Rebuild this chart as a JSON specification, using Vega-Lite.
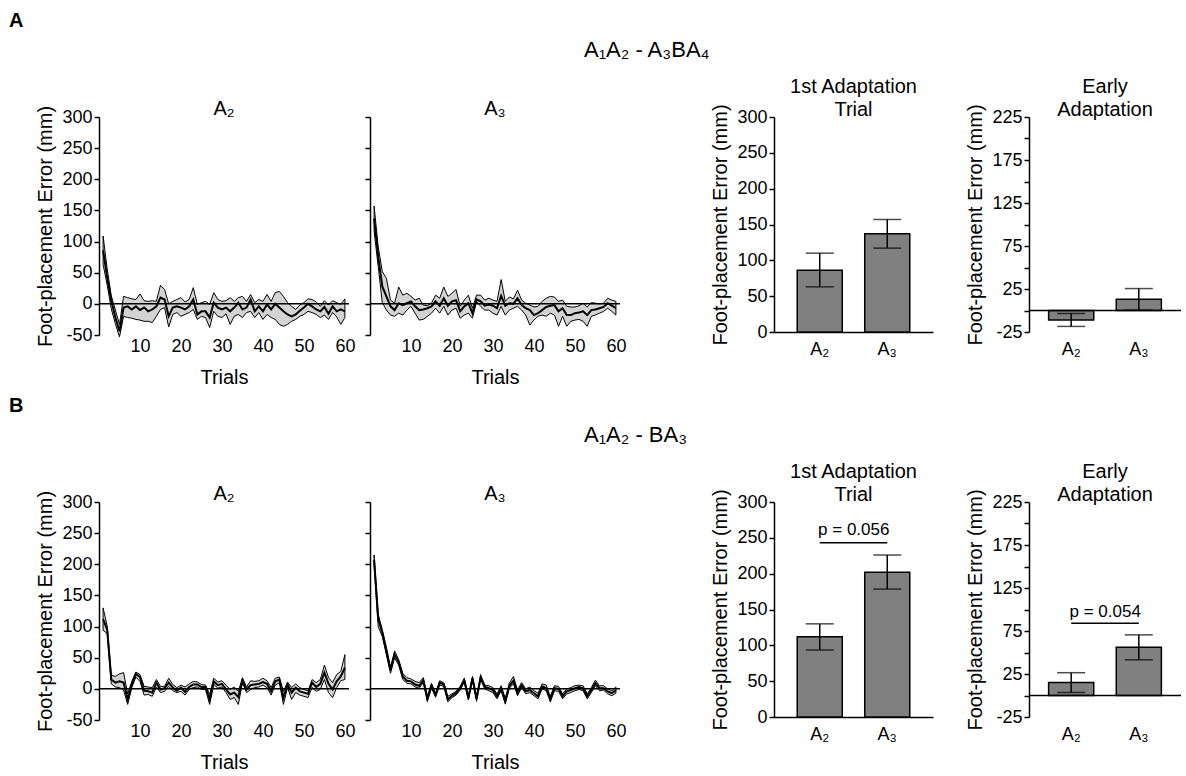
{
"$schema": "https://vega.github.io/schema/vega-lite/v6.json",
"background": "white",
"padding": {"left": 8, "top": 11, "right": 0, "bottom": 0},
"config": {
  "font": "Liberation Sans",
  "view": {"stroke": null},
  "axis": {"grid": false, "labelFont": "Liberation Sans", "titleFont": "Liberation Sans", "labelFontSize": 18, "titleFontSize": 20, "titleFontWeight": "normal", "labelColor": "#000", "titleColor": "#000", "domainColor": "#000", "tickColor": "#000", "domainWidth": 1.5, "tickWidth": 1.5, "tickSize": 5, "labelPadding": 2, "titlePadding": 6, "labelFlush": false, "labelOverlap": false},
  "axisY": {"labelOverlap": false},
  "axisQuantitative": {"labelOverlap": false},
  "title": {"font": "Liberation Sans", "fontSize": 20, "fontWeight": "normal", "color": "#000", "lineHeight": 23, "offset": 2, "frame": "group"}
},
"datasets": {
  "aA2": [
{"trial":1,"mean":86,"lo":63,"hi":109},{"trial":2,"mean":42,"lo":30,"hi":56},{"trial":3,"mean":5,"lo":-8,"hi":13},{"trial":4,"mean":-22,"lo":-32,"hi":-10},{"trial":5,"mean":-44,"lo":-53,"hi":-33},
{"trial":6,"mean":-6,"lo":-20,"hi":12},{"trial":7,"mean":-4,"lo":-22,"hi":10},{"trial":8,"mean":-9,"lo":-23,"hi":8},{"trial":9,"mean":-4,"lo":-25,"hi":7},{"trial":10,"mean":-10,"lo":-26,"hi":16},
{"trial":11,"mean":-6,"lo":-28,"hi":5},{"trial":12,"mean":-12,"lo":-28,"hi":4},{"trial":13,"mean":-9,"lo":-30,"hi":5},{"trial":14,"mean":-4,"lo":-20,"hi":4},{"trial":15,"mean":10,"lo":-9,"hi":30},
{"trial":16,"mean":7,"lo":-6,"hi":23},{"trial":17,"mean":-20,"lo":-37,"hi":0},{"trial":18,"mean":-6,"lo":-17,"hi":4},{"trial":19,"mean":-4,"lo":-14,"hi":7},{"trial":20,"mean":-6,"lo":-20,"hi":10},
{"trial":21,"mean":-9,"lo":-17,"hi":3},{"trial":22,"mean":-4,"lo":-14,"hi":7},{"trial":23,"mean":7,"lo":-9,"hi":26},{"trial":24,"mean":-17,"lo":-25,"hi":-1},{"trial":25,"mean":-12,"lo":-20,"hi":2},
{"trial":26,"mean":-12,"lo":-22,"hi":4},{"trial":27,"mean":-22,"lo":-38,"hi":-1},{"trial":28,"mean":2,"lo":-12,"hi":18},{"trial":29,"mean":-6,"lo":-20,"hi":7},{"trial":30,"mean":-9,"lo":-22,"hi":4},
{"trial":31,"mean":-6,"lo":-16,"hi":5},{"trial":32,"mean":-12,"lo":-33,"hi":10},{"trial":33,"mean":-6,"lo":-20,"hi":4},{"trial":34,"mean":2,"lo":-17,"hi":10},{"trial":35,"mean":-9,"lo":-22,"hi":12},
{"trial":36,"mean":-6,"lo":-14,"hi":4},{"trial":37,"mean":7,"lo":-12,"hi":15},{"trial":38,"mean":-12,"lo":-22,"hi":2},{"trial":39,"mean":-4,"lo":-14,"hi":7},{"trial":40,"mean":-12,"lo":-25,"hi":4},
{"trial":41,"mean":-1,"lo":-17,"hi":15},{"trial":42,"mean":-9,"lo":-22,"hi":4},{"trial":43,"mean":0,"lo":-25,"hi":18},{"trial":44,"mean":-6,"lo":-33,"hi":20},{"trial":45,"mean":-12,"lo":-36,"hi":12},
{"trial":46,"mean":-17,"lo":-33,"hi":2},{"trial":47,"mean":-20,"lo":-28,"hi":-4},{"trial":48,"mean":-17,"lo":-25,"hi":-9},{"trial":49,"mean":-11,"lo":-20,"hi":-2},{"trial":50,"mean":-6,"lo":-17,"hi":2},
{"trial":51,"mean":0,"lo":-12,"hi":8},{"trial":52,"mean":-4,"lo":-14,"hi":7},{"trial":53,"mean":-9,"lo":-17,"hi":3},{"trial":54,"mean":-12,"lo":-22,"hi":-4},{"trial":55,"mean":-5,"lo":-18,"hi":5},
{"trial":56,"mean":-16,"lo":-25,"hi":-2},{"trial":57,"mean":-4,"lo":-14,"hi":5},{"trial":58,"mean":-12,"lo":-21,"hi":2},{"trial":59,"mean":-9,"lo":-33,"hi":-1},{"trial":60,"mean":-12,"lo":-22,"hi":8}
  ],
  "aA3": [
{"trial":1,"mean":137,"lo":117,"hi":157},{"trial":2,"mean":76,"lo":60,"hi":92},{"trial":3,"mean":28,"lo":2,"hi":52},{"trial":4,"mean":12,"lo":-10,"hi":41},{"trial":5,"mean":-4,"lo":-18,"hi":6},
{"trial":6,"mean":-10,"lo":-20,"hi":1},{"trial":7,"mean":1,"lo":-15,"hi":27},{"trial":8,"mean":-2,"lo":-18,"hi":14},{"trial":9,"mean":1,"lo":-10,"hi":17},{"trial":10,"mean":4,"lo":-4,"hi":12},
{"trial":11,"mean":-4,"lo":-15,"hi":6},{"trial":12,"mean":-10,"lo":-26,"hi":9},{"trial":13,"mean":-9,"lo":-25,"hi":-2},{"trial":14,"mean":-7,"lo":-20,"hi":-3},{"trial":15,"mean":-4,"lo":-15,"hi":1},
{"trial":16,"mean":4,"lo":-7,"hi":14},{"trial":17,"mean":-3,"lo":-15,"hi":9},{"trial":18,"mean":9,"lo":-4,"hi":27},{"trial":19,"mean":-3,"lo":-18,"hi":12},{"trial":20,"mean":4,"lo":-10,"hi":17},
{"trial":21,"mean":6,"lo":-7,"hi":23},{"trial":22,"mean":-12,"lo":-23,"hi":-4},{"trial":23,"mean":-4,"lo":-18,"hi":6},{"trial":24,"mean":1,"lo":-15,"hi":14},{"trial":25,"mean":-15,"lo":-23,"hi":-7},
{"trial":26,"mean":7,"lo":4,"hi":14},{"trial":27,"mean":4,"lo":-4,"hi":14},{"trial":28,"mean":-3,"lo":-10,"hi":6},{"trial":29,"mean":-1,"lo":-10,"hi":9},{"trial":30,"mean":-3,"lo":-15,"hi":6},
{"trial":31,"mean":-7,"lo":-18,"hi":4},{"trial":32,"mean":13,"lo":-4,"hi":39},{"trial":33,"mean":-3,"lo":-18,"hi":4},{"trial":34,"mean":1,"lo":-10,"hi":11},{"trial":35,"mean":0,"lo":-7,"hi":8},
{"trial":36,"mean":9,"lo":-4,"hi":22},{"trial":37,"mean":-2,"lo":-10,"hi":6},{"trial":38,"mean":-7,"lo":-18,"hi":1},{"trial":39,"mean":-10,"lo":-34,"hi":-2},{"trial":40,"mean":-18,"lo":-26,"hi":-5},
{"trial":41,"mean":-15,"lo":-20,"hi":-4},{"trial":42,"mean":-10,"lo":-18,"hi":4},{"trial":43,"mean":-5,"lo":-20,"hi":9},{"trial":44,"mean":-3,"lo":-15,"hi":12},{"trial":45,"mean":-2,"lo":-18,"hi":11},
{"trial":46,"mean":-12,"lo":-36,"hi":4},{"trial":47,"mean":-7,"lo":-20,"hi":6},{"trial":48,"mean":-18,"lo":-36,"hi":-4},{"trial":49,"mean":-18,"lo":-28,"hi":-5},{"trial":50,"mean":-15,"lo":-26,"hi":-5},
{"trial":51,"mean":-14,"lo":-25,"hi":-3},{"trial":52,"mean":-12,"lo":-28,"hi":1},{"trial":53,"mean":-18,"lo":-36,"hi":-5},{"trial":54,"mean":-10,"lo":-20,"hi":2},{"trial":55,"mean":-9,"lo":-18,"hi":1},
{"trial":56,"mean":-7,"lo":-15,"hi":0},{"trial":57,"mean":-5,"lo":-12,"hi":1},{"trial":58,"mean":1,"lo":-7,"hi":9},{"trial":59,"mean":-3,"lo":-12,"hi":6},{"trial":60,"mean":-7,"lo":-18,"hi":4}
  ],
  "bA2": [
{"trial":1,"mean":112,"lo":94,"hi":130},{"trial":2,"mean":95,"lo":89,"hi":101},{"trial":3,"mean":15,"lo":8,"hi":22},{"trial":4,"mean":10,"lo":3,"hi":20},{"trial":5,"mean":12,"lo":2,"hi":24},
{"trial":6,"mean":10,"lo":-2,"hi":26},{"trial":7,"mean":-17,"lo":-25,"hi":-8},{"trial":8,"mean":7,"lo":2,"hi":12},{"trial":9,"mean":24,"lo":19,"hi":27},{"trial":10,"mean":19,"lo":12,"hi":23},
{"trial":11,"mean":-3,"lo":-10,"hi":4},{"trial":12,"mean":-4,"lo":-9,"hi":3},{"trial":13,"mean":-6,"lo":-12,"hi":2},{"trial":14,"mean":10,"lo":3,"hi":15},{"trial":15,"mean":-1,"lo":-6,"hi":4},
{"trial":16,"mean":1,"lo":-4,"hi":4},{"trial":17,"mean":10,"lo":4,"hi":17},{"trial":18,"mean":2,"lo":-3,"hi":7},{"trial":19,"mean":-3,"lo":-6,"hi":2},{"trial":20,"mean":2,"lo":-4,"hi":6},
{"trial":21,"mean":-5,"lo":-10,"hi":3},{"trial":22,"mean":3,"lo":-1,"hi":8},{"trial":23,"mean":7,"lo":2,"hi":12},{"trial":24,"mean":7,"lo":3,"hi":11},{"trial":25,"mean":3,"lo":-1,"hi":7},
{"trial":26,"mean":3,"lo":-1,"hi":6},{"trial":27,"mean":-17,"lo":-25,"hi":-9},{"trial":28,"mean":12,"lo":7,"hi":17},{"trial":29,"mean":6,"lo":1,"hi":11},{"trial":30,"mean":8,"lo":3,"hi":13},
{"trial":31,"mean":-1,"lo":-6,"hi":6},{"trial":32,"mean":-9,"lo":-17,"hi":-1},{"trial":33,"mean":-6,"lo":-14,"hi":3},{"trial":34,"mean":-13,"lo":-25,"hi":-4},{"trial":35,"mean":13,"lo":10,"hi":18},
{"trial":36,"mean":-1,"lo":-6,"hi":3},{"trial":37,"mean":6,"lo":-1,"hi":13},{"trial":38,"mean":7,"lo":2,"hi":12},{"trial":39,"mean":8,"lo":3,"hi":13},{"trial":40,"mean":11,"lo":6,"hi":17},
{"trial":41,"mean":8,"lo":2,"hi":13},{"trial":42,"mean":-4,"lo":-10,"hi":2},{"trial":43,"mean":12,"lo":6,"hi":17},{"trial":44,"mean":15,"lo":10,"hi":19},{"trial":45,"mean":-14,"lo":-25,"hi":-4},
{"trial":46,"mean":7,"lo":2,"hi":11},{"trial":47,"mean":-6,"lo":-17,"hi":2},{"trial":48,"mean":2,"lo":-6,"hi":8},{"trial":49,"mean":-4,"lo":-10,"hi":2},{"trial":50,"mean":-6,"lo":-12,"hi":-1},
{"trial":51,"mean":-8,"lo":-14,"hi":-3},{"trial":52,"mean":10,"lo":2,"hi":15},{"trial":53,"mean":3,"lo":-4,"hi":10},{"trial":54,"mean":8,"lo":-1,"hi":15},{"trial":55,"mean":26,"lo":15,"hi":38},
{"trial":56,"mean":8,"lo":-6,"hi":18},{"trial":57,"mean":-1,"lo":-14,"hi":10},{"trial":58,"mean":12,"lo":2,"hi":23},{"trial":59,"mean":20,"lo":13,"hi":28},{"trial":60,"mean":34,"lo":15,"hi":55}
  ],
  "bA3": [
{"trial":1,"mean":207,"lo":199,"hi":215},{"trial":2,"mean":112,"lo":100,"hi":120},{"trial":3,"mean":90,"lo":84,"hi":95},{"trial":4,"mean":60,"lo":55,"hi":67},{"trial":5,"mean":30,"lo":25,"hi":35},
{"trial":6,"mean":55,"lo":50,"hi":61},{"trial":7,"mean":43,"lo":38,"hi":47},{"trial":8,"mean":20,"lo":15,"hi":25},{"trial":9,"mean":13,"lo":9,"hi":18},{"trial":10,"mean":12,"lo":8,"hi":16},
{"trial":11,"mean":7,"lo":3,"hi":12},{"trial":12,"mean":5,"lo":1,"hi":10},{"trial":13,"mean":14,"lo":10,"hi":18},{"trial":14,"mean":-16,"lo":-20,"hi":-12},{"trial":15,"mean":5,"lo":1,"hi":9},
{"trial":16,"mean":-10,"lo":-13,"hi":-7},{"trial":17,"mean":10,"lo":6,"hi":13},{"trial":18,"mean":7,"lo":4,"hi":10},{"trial":19,"mean":-17,"lo":-21,"hi":-12},{"trial":20,"mean":-11,"lo":-14,"hi":-8},
{"trial":21,"mean":-7,"lo":-10,"hi":-4},{"trial":22,"mean":1,"lo":-2,"hi":4},{"trial":23,"mean":14,"lo":11,"hi":17},{"trial":24,"mean":-15,"lo":-18,"hi":-12},{"trial":25,"mean":17,"lo":14,"hi":20},
{"trial":26,"mean":-16,"lo":-20,"hi":-13},{"trial":27,"mean":19,"lo":15,"hi":22},{"trial":28,"mean":3,"lo":0,"hi":6},{"trial":29,"mean":1,"lo":-3,"hi":5},{"trial":30,"mean":-2,"lo":-6,"hi":2},
{"trial":31,"mean":-12,"lo":-16,"hi":-8},{"trial":32,"mean":1,"lo":-3,"hi":5},{"trial":33,"mean":-20,"lo":-24,"hi":-15},{"trial":34,"mean":5,"lo":1,"hi":9},{"trial":35,"mean":13,"lo":8,"hi":20},
{"trial":36,"mean":-7,"lo":-11,"hi":-2},{"trial":37,"mean":6,"lo":2,"hi":10},{"trial":38,"mean":-4,"lo":-8,"hi":0},{"trial":39,"mean":-2,"lo":-6,"hi":3},{"trial":40,"mean":-7,"lo":-11,"hi":-3},
{"trial":41,"mean":-12,"lo":-16,"hi":-7},{"trial":42,"mean":4,"lo":0,"hi":8},{"trial":43,"mean":1,"lo":-3,"hi":6},{"trial":44,"mean":-17,"lo":-21,"hi":-12},{"trial":45,"mean":1,"lo":-3,"hi":5},
{"trial":46,"mean":0,"lo":-4,"hi":4},{"trial":47,"mean":-12,"lo":-16,"hi":-8},{"trial":48,"mean":-4,"lo":-8,"hi":0},{"trial":49,"mean":-2,"lo":-6,"hi":2},{"trial":50,"mean":1,"lo":-3,"hi":5},
{"trial":51,"mean":3,"lo":-1,"hi":6},{"trial":52,"mean":1,"lo":-3,"hi":5},{"trial":53,"mean":-12,"lo":-16,"hi":-8},{"trial":54,"mean":-2,"lo":-6,"hi":2},{"trial":55,"mean":9,"lo":5,"hi":14},
{"trial":56,"mean":1,"lo":-3,"hi":5},{"trial":57,"mean":1,"lo":-2,"hi":5},{"trial":58,"mean":-4,"lo":-8,"hi":0},{"trial":59,"mean":-7,"lo":-11,"hi":-3},{"trial":60,"mean":-2,"lo":-7,"hi":3}
  ],
  "aFirst": [{"cond":"A₂","mean":86,"lo":63,"hi":110},{"cond":"A₃","mean":137,"lo":117,"hi":157}],
  "aEarly": [{"cond":"A₂","mean":-11,"lo":-18.5,"hi":-3.5},{"cond":"A₃","mean":13,"lo":0.5,"hi":25.5}],
  "bFirst": [{"cond":"A₂","mean":112,"lo":93.5,"hi":130},{"cond":"A₃","mean":202,"lo":178.5,"hi":226}],
  "bEarly": [{"cond":"A₂","mean":15,"lo":3.5,"hi":26.5},{"cond":"A₃","mean":56,"lo":41.5,"hi":70.5}],
  "bFirstP": [{"from":"A₂","to":"A₃","y":243,"ty":261,"p":"p = 0.056"}],
  "bEarlyP": [{"from":"A₂","to":"A₃","y":84,"ty":97,"p":"p = 0.054"}]
},
"spacing": 9,
"vconcat": [
 {
  "title": {"text": "A", "anchor": "start", "fontWeight": "bold", "fontSize": 20, "dx": -27, "offset": 8, "frame": "bounds"},
  "vconcat": [{
   "title": {"text": "A₁A₂ - A₃BA₄", "anchor": "start", "dx": 548, "fontSize": 22, "offset": 14, "frame": "bounds"},
   "spacing": 84,
   "hconcat": [
    {"spacing": 9, "hconcat": [
     {"width": 250, "height": 218, "title": {"text": ["", "A₂"], "offset": 1, "dy": 15},
      "layer": [
       {"data": {"name": "aA2"}, "mark": {"type": "area", "fill": "#d3d3d3", "stroke": "#000", "strokeWidth": 1},
        "encoding": {"x": {"field": "trial", "type": "quantitative", "title": "Trials", "scale": {"domain": [0, 61], "nice": false, "zero": false}, "axis": {"values": [10,20,30,40,50,60], "domain": false, "ticks": false, "titlePadding": 12}},
         "y": {"field": "lo", "type": "quantitative", "title": "Foot-placement Error (mm)", "scale": {"domain": [-50, 300], "nice": false}, "axis": {"values": [-50,0,50,100,150,200,250,300], "labelExpr": "toString(datum.value)", "labelOverlap": false}},
         "y2": {"field": "hi"}}},
       {"data": {"values": [{}]}, "mark": {"type": "rule", "color": "#000", "strokeWidth": 1.5}, "encoding": {"y": {"datum": 0, "axis": {"values": [-50,0,50,100,150,200,250,300], "labelExpr": "toString(datum.value)", "labelOverlap": false}}}},
       {"data": {"name": "aA2"}, "mark": {"type": "line", "color": "#000", "strokeWidth": 2},
        "encoding": {"x": {"field": "trial", "type": "quantitative", "title": "Trials", "axis": {"values": [10,20,30,40,50,60], "domain": false, "ticks": false, "titlePadding": 12}}, "y": {"field": "mean", "type": "quantitative", "title": "Foot-placement Error (mm)", "axis": {"values": [-50,0,50,100,150,200,250,300], "labelExpr": "toString(datum.value)", "labelOverlap": false}}}}
      ]},
     {"width": 250, "height": 218, "title": {"text": ["", "A₃"], "offset": 1, "dy": 4},
      "layer": [
       {"data": {"name": "aA3"}, "mark": {"type": "area", "fill": "#d3d3d3", "stroke": "#000", "strokeWidth": 1},
        "encoding": {"x": {"field": "trial", "type": "quantitative", "title": "Trials", "scale": {"domain": [0, 61], "nice": false, "zero": false}, "axis": {"values": [10,20,30,40,50,60], "domain": false, "ticks": false, "titlePadding": 12}},
         "y": {"field": "lo", "type": "quantitative", "title": null, "scale": {"domain": [-50, 300], "nice": false}, "axis": {"values": [-50,0,50,100,150,200,250,300], "labels": false}},
         "y2": {"field": "hi"}}},
       {"data": {"values": [{}]}, "mark": {"type": "rule", "color": "#000", "strokeWidth": 1.5}, "encoding": {"y": {"datum": 0, "axis": {"values": [-50,0,50,100,150,200,250,300], "labels": false}}}},
       {"data": {"name": "aA3"}, "mark": {"type": "line", "color": "#000", "strokeWidth": 2},
        "encoding": {"x": {"field": "trial", "type": "quantitative", "title": "Trials", "axis": {"values": [10,20,30,40,50,60], "domain": false, "ticks": false, "titlePadding": 12}}, "y": {"field": "mean", "type": "quantitative", "title": null, "axis": {"values": [-50,0,50,100,150,200,250,300], "labels": false}}}}
      ]}
    ]},
    {"spacing": 32, "hconcat": [
     {"width": 159, "height": 215, "title": {"text": ["1st Adaptation", "Trial"], "offset": 3, "dy": 19},
      "layer": [
       {"data": {"name": "aFirst"}, "mark": {"type": "bar", "fill": "#808080", "stroke": "#000", "strokeWidth": 1.5},
        "encoding": {"x": {"field": "cond", "type": "nominal", "sort": null, "title": null, "scale": {"paddingInner": 0.333, "paddingOuter": 0.344}, "axis": {"labelAngle": 0, "ticks": false, "labelPadding": 8}},
         "y": {"field": "mean", "type": "quantitative", "title": "Foot-placement Error (mm)", "scale": {"domain": [0, 300], "nice": false}, "axis": {"values": [0,50,100,150,200,250,300], "labelOverlap": false}}}},
       {"data": {"name": "aFirst"}, "mark": {"type": "rule", "color": "#000", "strokeWidth": 1.5},
        "encoding": {"x": {"field": "cond", "type": "nominal", "sort": null, "title": null, "axis": {"labelAngle": 0, "ticks": false, "labelPadding": 8}}, "y": {"field": "lo", "type": "quantitative", "title": "Foot-placement Error (mm)", "axis": {"values": [0,50,100,150,200,250,300], "labelOverlap": false}}, "y2": {"field": "hi"}}},
       {"data": {"name": "aFirst"}, "mark": {"type": "tick", "color": "#000", "size": 28, "thickness": 1.5},
        "encoding": {"x": {"field": "cond", "type": "nominal", "sort": null, "title": null, "axis": {"labelAngle": 0, "ticks": false, "labelPadding": 8}}, "y": {"field": "lo", "type": "quantitative", "title": "Foot-placement Error (mm)", "axis": {"values": [0,50,100,150,200,250,300], "labelOverlap": false}}}},
       {"data": {"name": "aFirst"}, "mark": {"type": "tick", "color": "#000", "size": 28, "thickness": 1.5},
        "encoding": {"x": {"field": "cond", "type": "nominal", "sort": null, "title": null, "axis": {"labelAngle": 0, "ticks": false, "labelPadding": 8}}, "y": {"field": "hi", "type": "quantitative", "title": "Foot-placement Error (mm)", "axis": {"values": [0,50,100,150,200,250,300], "labelOverlap": false}}}}
      ]},
     {"width": 152, "height": 215, "title": {"text": ["Early", "Adaptation"], "offset": 3, "dy": 19},
      "layer": [
       {"data": {"name": "aEarly"}, "mark": {"type": "bar", "fill": "#808080", "stroke": "#000", "strokeWidth": 1.5},
        "encoding": {"x": {"field": "cond", "type": "nominal", "sort": null, "title": null, "scale": {"paddingInner": 0.333, "paddingOuter": 0.29}, "axis": {"labelAngle": 0, "ticks": false, "domain": false, "labelPadding": 8}},
         "y": {"field": "mean", "type": "quantitative", "title": "Foot-placement Error (mm)", "scale": {"domain": [-25, 225], "nice": false}, "axis": {"values": [-25,0,25,50,75,100,125,150,175,200,225], "labelExpr": "datum.value % 50 == 0 ? '' : toString(datum.value)", "labelOverlap": false}}}},
       {"data": {"values": [{}]}, "mark": {"type": "rule", "color": "#000", "strokeWidth": 1.5}, "encoding": {"y": {"datum": 0, "axis": {"values": [-25,0,25,50,75,100,125,150,175,200,225], "labelExpr": "datum.value % 50 == 0 ? '' : toString(datum.value)", "labelOverlap": false}}}},
       {"data": {"name": "aEarly"}, "mark": {"type": "rule", "color": "#000", "strokeWidth": 1.5},
        "encoding": {"x": {"field": "cond", "type": "nominal", "sort": null, "title": null, "axis": {"labelAngle": 0, "ticks": false, "domain": false, "labelPadding": 8}}, "y": {"field": "lo", "type": "quantitative", "title": "Foot-placement Error (mm)", "axis": {"values": [-25,0,25,50,75,100,125,150,175,200,225], "labelExpr": "datum.value % 50 == 0 ? '' : toString(datum.value)", "labelOverlap": false}}, "y2": {"field": "hi"}}},
       {"data": {"name": "aEarly"}, "mark": {"type": "tick", "color": "#000", "size": 28, "thickness": 1.5},
        "encoding": {"x": {"field": "cond", "type": "nominal", "sort": null, "title": null, "axis": {"labelAngle": 0, "ticks": false, "domain": false, "labelPadding": 8}}, "y": {"field": "lo", "type": "quantitative", "title": "Foot-placement Error (mm)", "axis": {"values": [-25,0,25,50,75,100,125,150,175,200,225], "labelExpr": "datum.value % 50 == 0 ? '' : toString(datum.value)", "labelOverlap": false}}}},
       {"data": {"name": "aEarly"}, "mark": {"type": "tick", "color": "#000", "size": 28, "thickness": 1.5},
        "encoding": {"x": {"field": "cond", "type": "nominal", "sort": null, "title": null, "axis": {"labelAngle": 0, "ticks": false, "domain": false, "labelPadding": 8}}, "y": {"field": "hi", "type": "quantitative", "title": "Foot-placement Error (mm)", "axis": {"values": [-25,0,25,50,75,100,125,150,175,200,225], "labelExpr": "datum.value % 50 == 0 ? '' : toString(datum.value)", "labelOverlap": false}}}}
      ]}
    ]}
   ]
  }]
 },
 {
  "title": {"text": "B", "anchor": "start", "fontWeight": "bold", "fontSize": 20, "dx": -27, "offset": 8, "frame": "bounds"},
  "vconcat": [{
   "title": {"text": "A₁A₂ - BA₃", "anchor": "start", "dx": 548, "fontSize": 22, "offset": 14, "frame": "bounds"},
   "spacing": 84,
   "hconcat": [
    {"spacing": 9, "hconcat": [
     {"width": 250, "height": 218, "title": {"text": ["", "A₂"], "offset": 1, "dy": 15},
      "layer": [
       {"data": {"name": "bA2"}, "mark": {"type": "area", "fill": "#d3d3d3", "stroke": "#000", "strokeWidth": 1},
        "encoding": {"x": {"field": "trial", "type": "quantitative", "title": "Trials", "scale": {"domain": [0, 61], "nice": false, "zero": false}, "axis": {"values": [10,20,30,40,50,60], "domain": false, "ticks": false, "titlePadding": 12}},
         "y": {"field": "lo", "type": "quantitative", "title": "Foot-placement Error (mm)", "scale": {"domain": [-50, 300], "nice": false}, "axis": {"values": [-50,0,50,100,150,200,250,300], "labelExpr": "toString(datum.value)", "labelOverlap": false}},
         "y2": {"field": "hi"}}},
       {"data": {"values": [{}]}, "mark": {"type": "rule", "color": "#000", "strokeWidth": 1.5}, "encoding": {"y": {"datum": 0, "axis": {"values": [-50,0,50,100,150,200,250,300], "labelExpr": "toString(datum.value)", "labelOverlap": false}}}},
       {"data": {"name": "bA2"}, "mark": {"type": "line", "color": "#000", "strokeWidth": 2},
        "encoding": {"x": {"field": "trial", "type": "quantitative", "title": "Trials", "axis": {"values": [10,20,30,40,50,60], "domain": false, "ticks": false, "titlePadding": 12}}, "y": {"field": "mean", "type": "quantitative", "title": "Foot-placement Error (mm)", "axis": {"values": [-50,0,50,100,150,200,250,300], "labelExpr": "toString(datum.value)", "labelOverlap": false}}}}
      ]},
     {"width": 250, "height": 218, "title": {"text": ["", "A₃"], "offset": 1, "dy": 4},
      "layer": [
       {"data": {"name": "bA3"}, "mark": {"type": "area", "fill": "#d3d3d3", "stroke": "#000", "strokeWidth": 1},
        "encoding": {"x": {"field": "trial", "type": "quantitative", "title": "Trials", "scale": {"domain": [0, 61], "nice": false, "zero": false}, "axis": {"values": [10,20,30,40,50,60], "domain": false, "ticks": false, "titlePadding": 12}},
         "y": {"field": "lo", "type": "quantitative", "title": null, "scale": {"domain": [-50, 300], "nice": false}, "axis": {"values": [-50,0,50,100,150,200,250,300], "labels": false}},
         "y2": {"field": "hi"}}},
       {"data": {"values": [{}]}, "mark": {"type": "rule", "color": "#000", "strokeWidth": 1.5}, "encoding": {"y": {"datum": 0, "axis": {"values": [-50,0,50,100,150,200,250,300], "labels": false}}}},
       {"data": {"name": "bA3"}, "mark": {"type": "line", "color": "#000", "strokeWidth": 2},
        "encoding": {"x": {"field": "trial", "type": "quantitative", "title": "Trials", "axis": {"values": [10,20,30,40,50,60], "domain": false, "ticks": false, "titlePadding": 12}}, "y": {"field": "mean", "type": "quantitative", "title": null, "axis": {"values": [-50,0,50,100,150,200,250,300], "labels": false}}}}
      ]}
    ]},
    {"spacing": 32, "hconcat": [
     {"width": 159, "height": 215, "title": {"text": ["1st Adaptation", "Trial"], "offset": 3, "dy": 19},
      "layer": [
       {"data": {"name": "bFirst"}, "mark": {"type": "bar", "fill": "#808080", "stroke": "#000", "strokeWidth": 1.5},
        "encoding": {"x": {"field": "cond", "type": "nominal", "sort": null, "title": null, "scale": {"paddingInner": 0.333, "paddingOuter": 0.344}, "axis": {"labelAngle": 0, "ticks": false, "labelPadding": 8}},
         "y": {"field": "mean", "type": "quantitative", "title": "Foot-placement Error (mm)", "scale": {"domain": [0, 300], "nice": false}, "axis": {"values": [0,50,100,150,200,250,300], "labelOverlap": false}}}},
       {"data": {"name": "bFirst"}, "mark": {"type": "rule", "color": "#000", "strokeWidth": 1.5},
        "encoding": {"x": {"field": "cond", "type": "nominal", "sort": null, "title": null, "axis": {"labelAngle": 0, "ticks": false, "labelPadding": 8}}, "y": {"field": "lo", "type": "quantitative", "title": "Foot-placement Error (mm)", "axis": {"values": [0,50,100,150,200,250,300], "labelOverlap": false}}, "y2": {"field": "hi"}}},
       {"data": {"name": "bFirst"}, "mark": {"type": "tick", "color": "#000", "size": 28, "thickness": 1.5},
        "encoding": {"x": {"field": "cond", "type": "nominal", "sort": null, "title": null, "axis": {"labelAngle": 0, "ticks": false, "labelPadding": 8}}, "y": {"field": "lo", "type": "quantitative", "title": "Foot-placement Error (mm)", "axis": {"values": [0,50,100,150,200,250,300], "labelOverlap": false}}}},
       {"data": {"name": "bFirst"}, "mark": {"type": "tick", "color": "#000", "size": 28, "thickness": 1.5},
        "encoding": {"x": {"field": "cond", "type": "nominal", "sort": null, "title": null, "axis": {"labelAngle": 0, "ticks": false, "labelPadding": 8}}, "y": {"field": "hi", "type": "quantitative", "title": "Foot-placement Error (mm)", "axis": {"values": [0,50,100,150,200,250,300], "labelOverlap": false}}}},
       {"data": {"name": "bFirstP"}, "mark": {"type": "rule", "color": "#000", "strokeWidth": 1.5},
        "encoding": {"x": {"field": "from", "type": "nominal", "sort": null, "title": null, "axis": {"labelAngle": 0, "ticks": false, "labelPadding": 8}}, "x2": {"field": "to"}, "y": {"field": "y", "type": "quantitative", "title": "Foot-placement Error (mm)", "axis": {"values": [0,50,100,150,200,250,300], "labelOverlap": false}}}},
       {"data": {"name": "bFirstP"}, "mark": {"type": "text", "dx": 34, "fontSize": 17, "baseline": "middle", "color": "#000"},
        "encoding": {"x": {"field": "from", "type": "nominal", "sort": null, "title": null, "axis": {"labelAngle": 0, "ticks": false, "labelPadding": 8}}, "y": {"field": "ty", "type": "quantitative", "title": "Foot-placement Error (mm)", "axis": {"values": [0,50,100,150,200,250,300], "labelOverlap": false}}, "text": {"field": "p"}}}
      ]},
     {"width": 152, "height": 215, "title": {"text": ["Early", "Adaptation"], "offset": 3, "dy": 19},
      "layer": [
       {"data": {"name": "bEarly"}, "mark": {"type": "bar", "fill": "#808080", "stroke": "#000", "strokeWidth": 1.5},
        "encoding": {"x": {"field": "cond", "type": "nominal", "sort": null, "title": null, "scale": {"paddingInner": 0.333, "paddingOuter": 0.29}, "axis": {"labelAngle": 0, "ticks": false, "domain": false, "labelPadding": 8}},
         "y": {"field": "mean", "type": "quantitative", "title": "Foot-placement Error (mm)", "scale": {"domain": [-25, 225], "nice": false}, "axis": {"values": [-25,0,25,50,75,100,125,150,175,200,225], "labelExpr": "datum.value % 50 == 0 ? '' : toString(datum.value)", "labelOverlap": false}}}},
       {"data": {"values": [{}]}, "mark": {"type": "rule", "color": "#000", "strokeWidth": 1.5}, "encoding": {"y": {"datum": 0, "axis": {"values": [-25,0,25,50,75,100,125,150,175,200,225], "labelExpr": "datum.value % 50 == 0 ? '' : toString(datum.value)", "labelOverlap": false}}}},
       {"data": {"name": "bEarly"}, "mark": {"type": "rule", "color": "#000", "strokeWidth": 1.5},
        "encoding": {"x": {"field": "cond", "type": "nominal", "sort": null, "title": null, "axis": {"labelAngle": 0, "ticks": false, "domain": false, "labelPadding": 8}}, "y": {"field": "lo", "type": "quantitative", "title": "Foot-placement Error (mm)", "axis": {"values": [-25,0,25,50,75,100,125,150,175,200,225], "labelExpr": "datum.value % 50 == 0 ? '' : toString(datum.value)", "labelOverlap": false}}, "y2": {"field": "hi"}}},
       {"data": {"name": "bEarly"}, "mark": {"type": "tick", "color": "#000", "size": 28, "thickness": 1.5},
        "encoding": {"x": {"field": "cond", "type": "nominal", "sort": null, "title": null, "axis": {"labelAngle": 0, "ticks": false, "domain": false, "labelPadding": 8}}, "y": {"field": "lo", "type": "quantitative", "title": "Foot-placement Error (mm)", "axis": {"values": [-25,0,25,50,75,100,125,150,175,200,225], "labelExpr": "datum.value % 50 == 0 ? '' : toString(datum.value)", "labelOverlap": false}}}},
       {"data": {"name": "bEarly"}, "mark": {"type": "tick", "color": "#000", "size": 28, "thickness": 1.5},
        "encoding": {"x": {"field": "cond", "type": "nominal", "sort": null, "title": null, "axis": {"labelAngle": 0, "ticks": false, "domain": false, "labelPadding": 8}}, "y": {"field": "hi", "type": "quantitative", "title": "Foot-placement Error (mm)", "axis": {"values": [-25,0,25,50,75,100,125,150,175,200,225], "labelExpr": "datum.value % 50 == 0 ? '' : toString(datum.value)", "labelOverlap": false}}}},
       {"data": {"name": "bEarlyP"}, "mark": {"type": "rule", "color": "#000", "strokeWidth": 1.5},
        "encoding": {"x": {"field": "from", "type": "nominal", "sort": null, "title": null, "axis": {"labelAngle": 0, "ticks": false, "domain": false, "labelPadding": 8}}, "x2": {"field": "to"}, "y": {"field": "y", "type": "quantitative", "title": "Foot-placement Error (mm)", "axis": {"values": [-25,0,25,50,75,100,125,150,175,200,225], "labelExpr": "datum.value % 50 == 0 ? '' : toString(datum.value)", "labelOverlap": false}}}},
       {"data": {"name": "bEarlyP"}, "mark": {"type": "text", "dx": 34, "fontSize": 17, "baseline": "middle", "color": "#000"},
        "encoding": {"x": {"field": "from", "type": "nominal", "sort": null, "title": null, "axis": {"labelAngle": 0, "ticks": false, "domain": false, "labelPadding": 8}}, "y": {"field": "ty", "type": "quantitative", "title": "Foot-placement Error (mm)", "axis": {"values": [-25,0,25,50,75,100,125,150,175,200,225], "labelExpr": "datum.value % 50 == 0 ? '' : toString(datum.value)", "labelOverlap": false}}, "text": {"field": "p"}}}
      ]}
    ]}
   ]
  }]
 }
]
}
